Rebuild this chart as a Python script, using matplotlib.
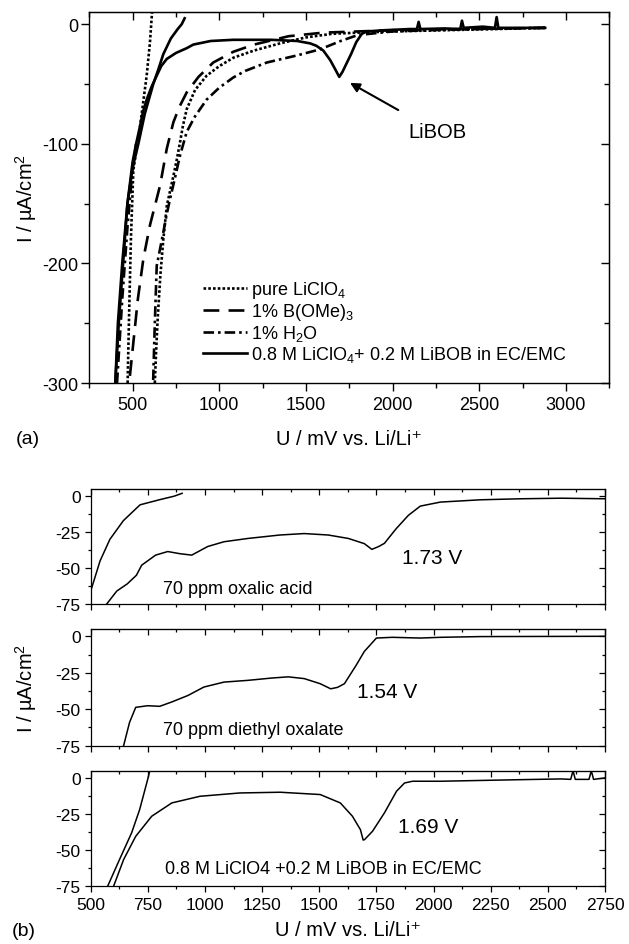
import matplotlib
matplotlib.use("Agg")
import matplotlib.pyplot as plt
from matplotlib.ticker import MultipleLocator
from matplotlib.lines import Line2D

plt.rcParams['font.family'] = ['Liberation Sans', 'DejaVu Sans']
plt.rcParams['mathtext.default'] = 'regular'
plt.rcParams['axes.unicode_minus'] = False

# ---------------- panel (a) data ----------------
pure_fwd_x = [2880, 2600, 2300, 2000, 1800, 1650, 1500, 1350, 1200, 1081, 1000, 927, 860, 812, 790, 773, 755, 735, 715, 697, 677, 660, 645, 635, 628]
pure_fwd_y = [-3, -4, -5, -6, -7, -8, -11, -16, -22, -28, -35, -43, -55, -71, -85, -99, -113, -127, -140, -152, -180, -210, -245, -275, -300]
pure_ret_x = [471, 480, 490, 504, 543, 581, 600, 612]
pure_ret_y = [-300, -240, -180, -122, -85, -43, -15, 10]

bome_x = [2880, 2400, 2000, 1800, 1600, 1400, 1200, 1081, 965, 880, 812, 770, 735, 697, 658, 600, 562, 530, 505, 480]
bome_y = [-3, -4, -5, -6, -7, -10, -17, -23, -32, -44, -57, -69, -82, -104, -135, -168, -196, -230, -265, -300]

h2o_fwd_x = [2880, 2500, 2200, 2000, 1800, 1700, 1581, 1450, 1274, 1150, 1081, 1000, 927, 860, 812, 773, 745, 716, 695, 677, 658, 639, 628, 618]
h2o_fwd_y = [-3, -4, -5, -6, -9, -14, -21, -26, -32, -39, -44.5, -53, -63, -77, -90, -110, -128, -146, -160, -174, -188, -202, -250, -300]
h2o_ret_x = [410, 440, 470, 500, 520]
h2o_ret_y = [-300, -230, -170, -120, -100]

libob_fwd_x = [2880, 2700, 2610, 2600, 2590, 2520, 2410, 2400, 2390, 2300, 2160, 2150, 2140, 2100, 1950, 1850, 1822, 1790, 1760, 1730, 1710, 1692, 1670, 1640, 1600, 1560, 1524, 1450, 1300, 1081, 950, 850, 812, 750, 697, 665, 639, 610, 581, 560, 543, 520, 500, 470, 440, 415, 400]
libob_fwd_y = [-3, -3, -3, 6, -3, -2, -3, 3, -4, -3.5, -4, 2, -4, -4, -5, -6, -8, -15, -25, -34, -40, -44, -38, -30, -22, -18, -16, -14, -13, -13, -14, -17, -20, -24, -29, -35, -43, -52, -63, -73, -85, -100, -115, -150, -200, -250, -300]
libob_ret_x = [400, 420, 445, 470, 500, 533, 570, 619, 650, 677, 720, 760, 783, 800]
libob_ret_y = [-300, -250, -200, -150, -120, -100, -75, -50, -37, -25, -12, -4, 0, 5]

legend_labels = ['pure LiClO$_4$', '1% B(OMe)$_3$', '1% H$_2$O', '0.8 M LiClO$_4$+ 0.2 M LiBOB in EC/EMC']

# ---------------- panel (b) data ----------------
ox_fwd_x = [570, 614, 660, 700, 723, 784, 837, 890, 942, 1012, 1083, 1188, 1328, 1434, 1539, 1627, 1697, 1730, 1760, 1785, 1837, 1890, 1942, 2030, 2206, 2382, 2557, 2750]
ox_fwd_y = [-75, -66, -61, -55, -48, -41, -38.5, -40, -41, -35, -31.7, -29.4, -27, -26, -27, -29.4, -33, -37, -35, -32.8, -22.5, -13.3, -6.9, -4.1, -2.5, -1.8, -1.4, -1.8]
ox_ret_x = [500, 541, 584, 643, 716, 800, 865, 900]
ox_ret_y = [-66, -45, -30, -17, -6, -2.5, 0, 2]

deo_x = [644, 670, 697, 749, 802, 855, 925, 995, 1083, 1188, 1293, 1364, 1434, 1504, 1550, 1580, 1610, 1662, 1697, 1750, 1820, 1942, 2030, 2206, 2750]
deo_y = [-75, -59, -48.7, -47.6, -48, -45, -40.6, -34.8, -31.4, -30.2, -28.6, -27.8, -29, -32.5, -36, -35, -32.5, -19.7, -10.4, -1.2, -0.7, -1.2, -0.7, -0.2, 0]

bob_fwd_x = [600, 644, 697, 767, 855, 978, 1153, 1329, 1504, 1592, 1645, 1680, 1692, 1698, 1733, 1785, 1838, 1873, 1908, 2030, 2382, 2557, 2600, 2610, 2620, 2680, 2690, 2700, 2750]
bob_fwd_y = [-75, -56.5, -40.4, -26.5, -17.3, -12.7, -10.4, -9.9, -11.5, -17.3, -26.5, -35.8, -43, -42.7, -36.9, -24.2, -9.2, -3.5, -2.3, -2.3, -1.2, -0.7, -1, 5, -1, -1, 5, -1, 0]
bob_ret_x = [574, 626, 679, 714, 749, 758]
bob_ret_y = [-75, -56.5, -38, -22, -1.2, 4.6]

x_label = 'U / mV vs. Li/Li\u207a'
y_label = 'I / µA/cm$^2$'

fig = plt.figure(figsize=(6.29, 9.45), dpi=100)
W, H = 629.0, 945.0

def frac(l, r, t, b):
    return [l / W, 1 - b / H, (r - l) / W, (b - t) / H]

def style_axes(ax, xmaj, xmin, ymaj, ymin, lmaj, lmin, lw, fs, xpad, ypad):
    ax.xaxis.set_major_locator(MultipleLocator(xmaj))
    ax.xaxis.set_minor_locator(MultipleLocator(xmin))
    ax.yaxis.set_major_locator(MultipleLocator(ymaj))
    ax.yaxis.set_minor_locator(MultipleLocator(ymin))
    ax.tick_params(which='both', direction='out', width=lw, labelsize=fs)
    ax.tick_params(axis='x', pad=xpad)
    ax.tick_params(axis='y', pad=ypad)
    ax.tick_params(which='major', length=lmaj)
    ax.tick_params(which='minor', length=lmin)
    for s in ax.spines.values():
        s.set_linewidth(lw)
    top = ax.secondary_xaxis('top')
    top.xaxis.set_major_locator(MultipleLocator(xmaj))
    top.xaxis.set_minor_locator(MultipleLocator(xmin))
    top.tick_params(which='both', direction='in', labeltop=False, width=lw)
    top.tick_params(which='major', length=lmaj)
    top.tick_params(which='minor', length=lmin)
    right = ax.secondary_yaxis('right')
    right.yaxis.set_major_locator(MultipleLocator(ymaj))
    right.yaxis.set_minor_locator(MultipleLocator(ymin))
    right.tick_params(which='both', direction='in', labelright=False, width=lw)
    right.tick_params(which='major', length=lmaj)
    right.tick_params(which='minor', length=lmin)

# ---------------- panel (a) ----------------
axa = fig.add_axes(frac(89.3, 609.3, 13.3, 384))
axa.set_xlim(250, 3250)
axa.set_ylim(-300, 10)
lw_a = 1.9
dot_ls = (0, (1, 0.8))
dash_ls = (0, (6, 3.5))
dd_ls = (0, (4, 1.5, 1, 1.5))
axa.plot(pure_fwd_x, pure_fwd_y, color='k', lw=lw_a, ls=dot_ls)
axa.plot(pure_ret_x, pure_ret_y, color='k', lw=lw_a, ls=dot_ls)
axa.plot(bome_x, bome_y, color='k', lw=lw_a, ls=dash_ls)
axa.plot(h2o_fwd_x, h2o_fwd_y, color='k', lw=lw_a, ls=dd_ls)
axa.plot(h2o_ret_x, h2o_ret_y, color='k', lw=lw_a, ls=dd_ls)
axa.plot(libob_fwd_x, libob_fwd_y, color='k', lw=lw_a, ls='-')
axa.plot(libob_ret_x, libob_ret_y, color='k', lw=lw_a, ls='-')
style_axes(axa, 500, 250, 100, 50, 6.0, 3.5, 1.0, 13, 3, 2)
axa.set_xlabel(x_label, fontsize=14.5, labelpad=12)
axa.set_ylabel(y_label, fontsize=14.5, labelpad=2)

handles = [Line2D([], [], color='k', lw=lw_a, ls=dot_ls),
           Line2D([], [], color='k', lw=lw_a, ls=dash_ls),
           Line2D([], [], color='k', lw=lw_a, ls=dd_ls),
           Line2D([], [], color='k', lw=lw_a, ls='-')]
axa.legend(handles, legend_labels, loc='upper left', bbox_to_anchor=(0.218, 0.28),
           frameon=False, fontsize=13, handlelength=2.45, handletextpad=0.2,
           labelspacing=0.05, borderaxespad=0, borderpad=0)

axa.annotate('LiBOB', xy=(1754, -49), xytext=(2256, -90), fontsize=14.5,
             ha='center', va='center',
             arrowprops=dict(arrowstyle='-|>', color='k', lw=1.5,
                             shrinkA=14, shrinkB=0, mutation_scale=14))
fig.text(28 / W, 1 - 440 / H, '(a)', fontsize=14, ha='center', va='center')

# ---------------- panel (b) ----------------
panels = [(490, 605), (630, 746.7), (771.7, 887.3)]
axes_b = []
for (t, b) in panels:
    ax = fig.add_axes(frac(90.7, 605, t, b))
    ax.set_xlim(500, 2750)
    ax.set_ylim(-75, 5)
    style_axes(ax, 250, 125, 25, 12.5, 4.3, 2.5, 0.9, 12.5, 3.5, 3)
    axes_b.append(ax)

lw_b = 1.1
axes_b[0].plot(ox_fwd_x, ox_fwd_y, color='k', lw=lw_b)
axes_b[0].plot(ox_ret_x, ox_ret_y, color='k', lw=lw_b)
axes_b[1].plot(deo_x, deo_y, color='k', lw=lw_b)
axes_b[2].plot(bob_fwd_x, bob_fwd_y, color='k', lw=lw_b)
axes_b[2].plot(bob_ret_x, bob_ret_y, color='k', lw=lw_b)

for ax in axes_b[:2]:
    ax.tick_params(labelbottom=False)

axes_b[0].text(1860, -43, '1.73 V', fontsize=15, ha='left', va='center')
axes_b[0].text(815, -67.5, '70 ppm oxalic acid', fontsize=13, ha='left', va='baseline')
axes_b[1].text(1667, -38, '1.54 V', fontsize=15, ha='left', va='center')
axes_b[1].text(815, -67, '70 ppm diethyl oxalate', fontsize=13, ha='left', va='baseline')
axes_b[2].text(1843, -33.5, '1.69 V', fontsize=15, ha='left', va='center')
axes_b[2].text(824, -66, '0.8 M LiClO4 +0.2 M LiBOB in EC/EMC', fontsize=13, ha='left', va='baseline')

axes_b[2].set_xlabel(x_label, fontsize=14.5, labelpad=6)
fig.text(26 / W, 1 - 688 / H, y_label, fontsize=14.5, rotation=90, ha='center', va='center')
fig.text(24 / W, 1 - 932 / H, '(b)', fontsize=14, ha='center', va='center')

fig.savefig('out.png', dpi=100)
